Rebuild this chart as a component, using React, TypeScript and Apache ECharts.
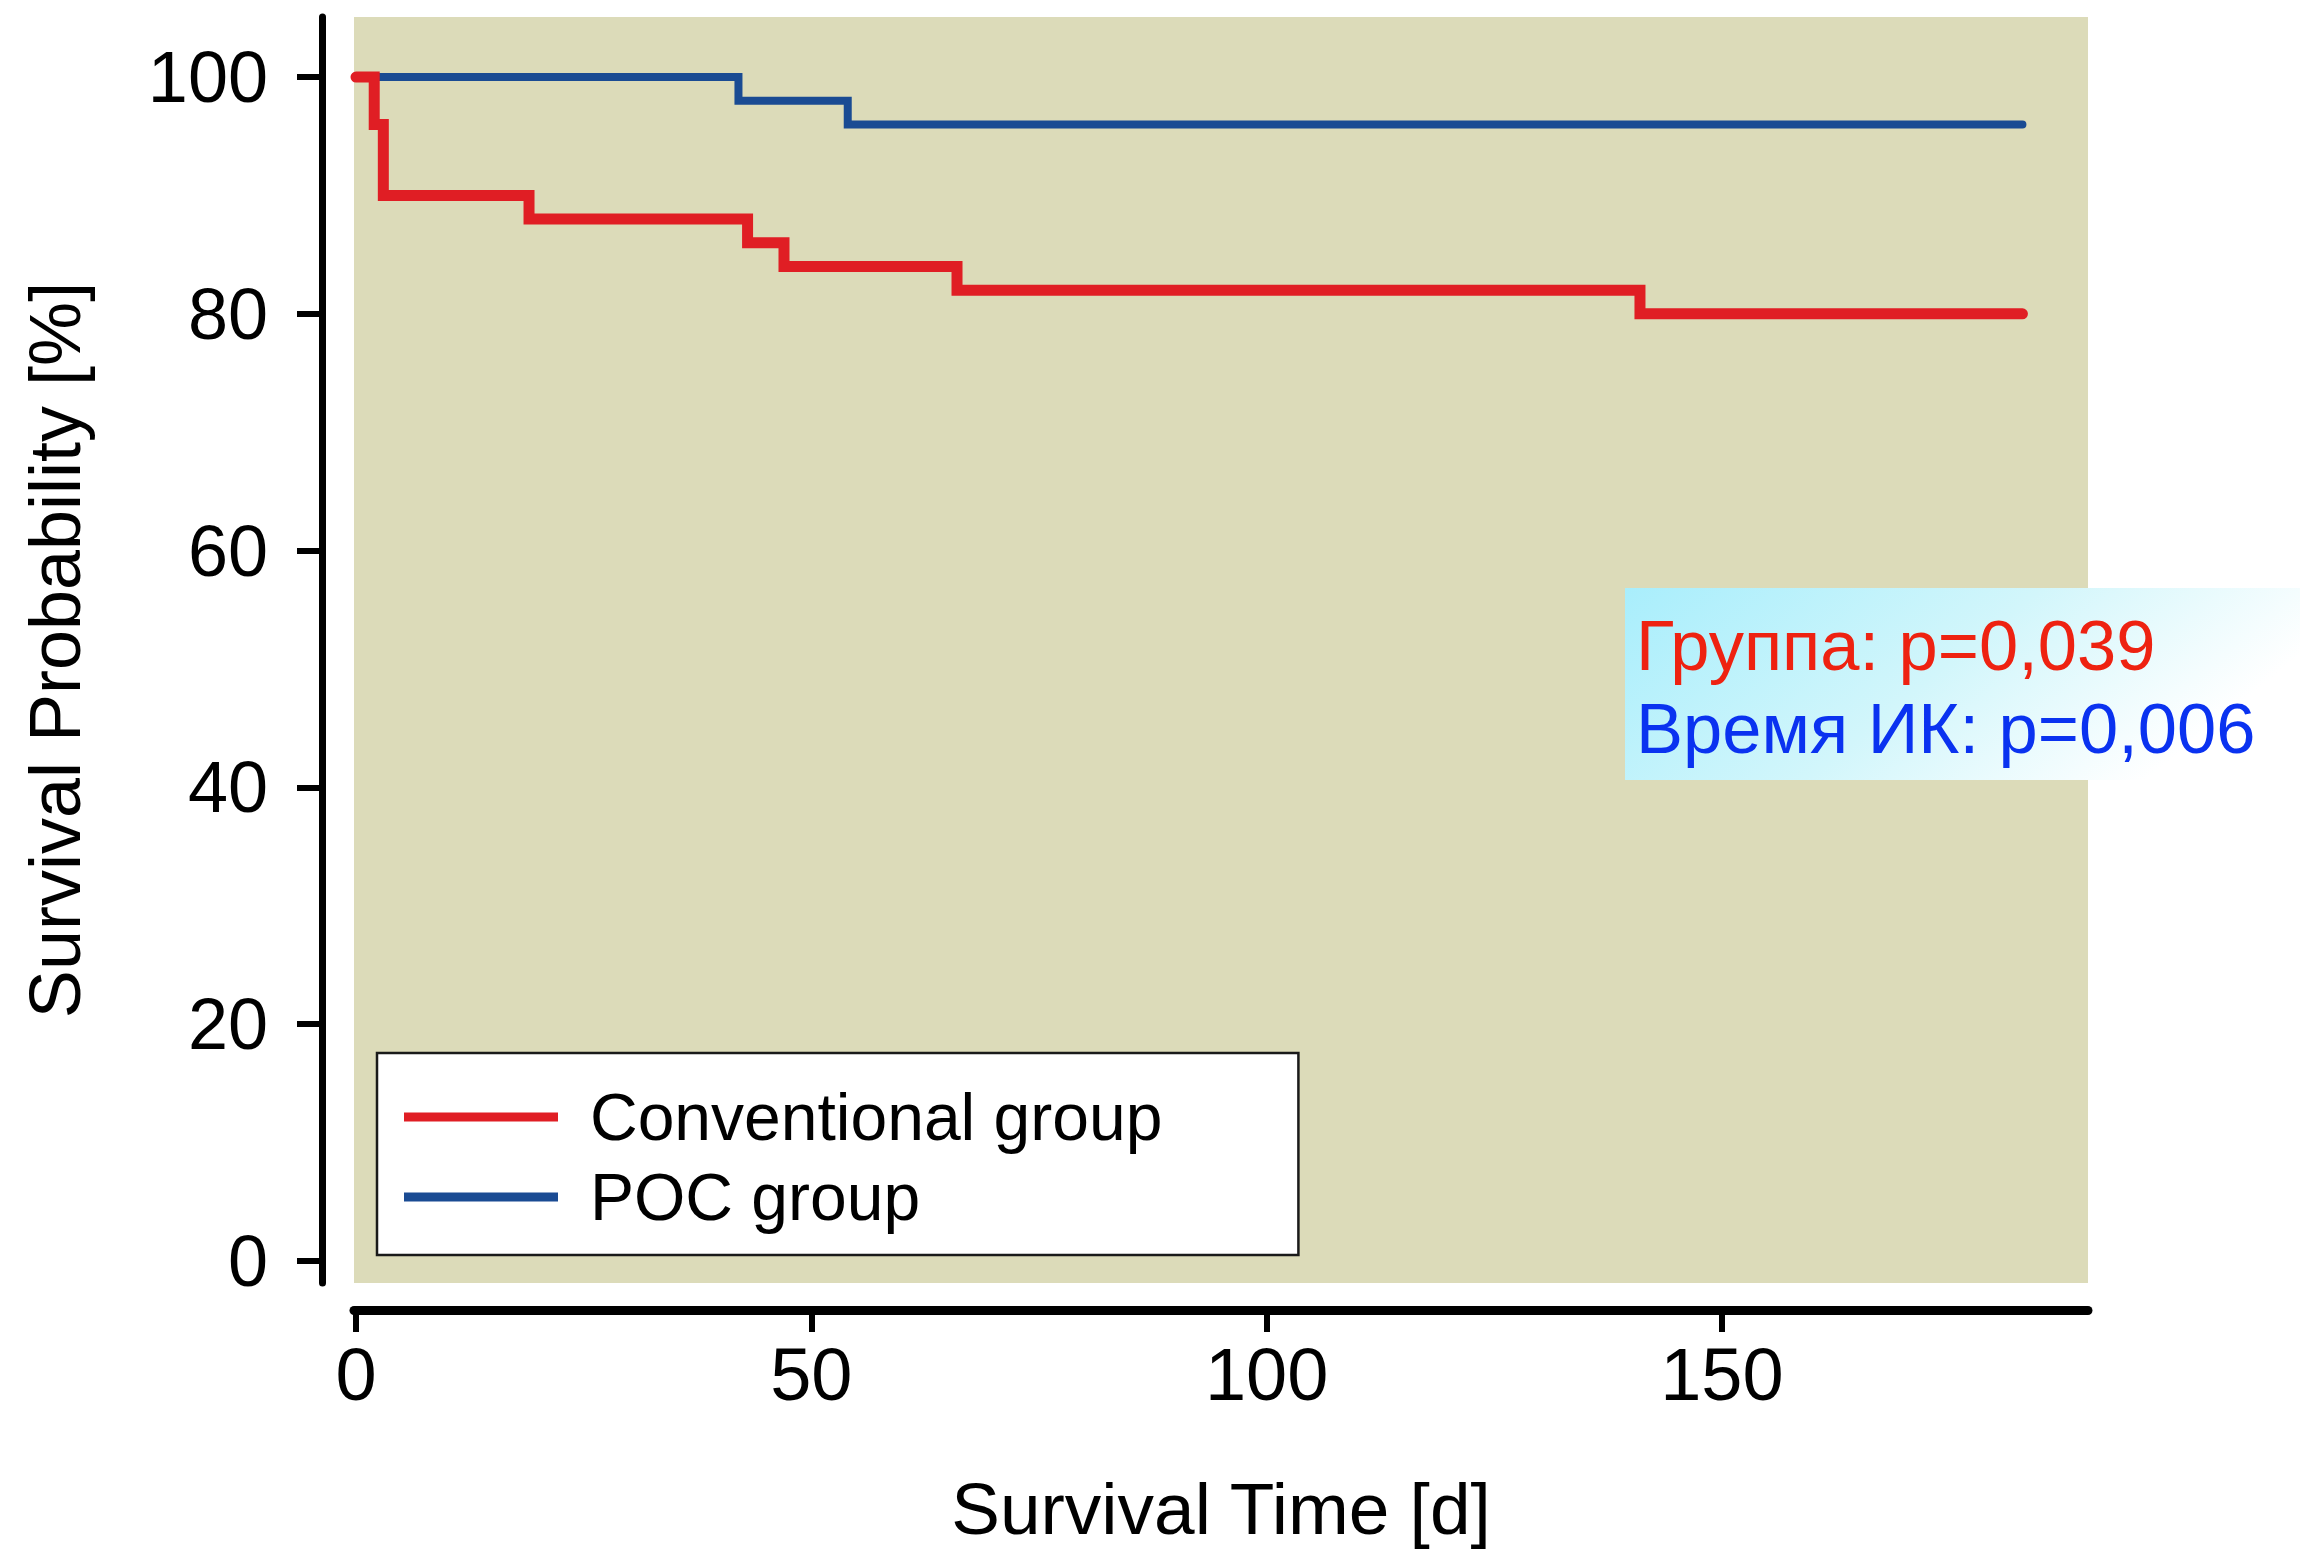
import React, { useEffect, useRef } from "react";
import * as echarts from "echarts";

// Kaplan–Meier step data (days, survival %)
const conventionalTime = [0, 2, 3, 19, 43, 47, 66, 141, 183];
const conventionalSurv = [100, 96, 90, 88, 86, 84, 82, 80, 80];
const pocTime = [0, 42, 54, 183];
const pocSurv = [100, 98, 96, 96];

const yTicks = [0, 20, 40, 60, 80, 100];
const xTicks = [0, 50, 100, 150];

const seriesNames = ["Conventional group", "POC group"];
const annotationLines = ["Группа: p=0,039", "Время ИК: p=0,006"];

const FONT = "'Liberation Sans', Arial, sans-serif";

export default function App() {
  const ref = useRef<HTMLDivElement | null>(null);

  useEffect(() => {
    if (!ref.current) return;
    const chart = echarts.init(ref.current, null, { renderer: "svg" });

    const conv = conventionalTime.map((t, i) => [t, conventionalSurv[i]]);
    const poc = pocTime.map((t, i) => [t, pocSurv[i]]);

    chart.setOption({
      animation: false,
      backgroundColor: "#ffffff",
      grid: {
        left: 354,
        right: 2302 - 2088,
        top: 17,
        bottom: 1551 - 1283,
        show: true,
        backgroundColor: "#DCDBB9",
        borderWidth: 0,
      },
      xAxis: {
        type: "value",
        min: -0.22,
        max: 190.2,
        offset: 27,
        name: "Survival Time [d]",
        nameLocation: "middle",
        nameGap: 162,
        nameTextStyle: { fontSize: 73, fontFamily: FONT, color: "#000" },
        axisLine: { show: true, onZero: false, lineStyle: { color: "#000", width: 9, cap: "round" } },
        axisTick: {
          show: true,
          length: 22,
          customValues: xTicks,
          lineStyle: { color: "#000", width: 6 },
        },
        axisLabel: {
          customValues: xTicks,
          margin: 27,
          fontSize: 74,
          fontFamily: FONT,
          color: "#000",
        },
        splitLine: { show: false },
      },
      yAxis: {
        type: "value",
        min: -1.86,
        max: 105.07,
        offset: 32,
        name: "Survival Probability [%]",
        nameLocation: "middle",
        nameGap: 231,
        nameTextStyle: { fontSize: 72, fontFamily: FONT, color: "#000" },
        axisLine: { show: true, onZero: false, lineStyle: { color: "#000", width: 7, cap: "round" } },
        axisTick: {
          show: true,
          length: 25,
          customValues: yTicks,
          lineStyle: { color: "#000", width: 6 },
        },
        axisLabel: {
          customValues: yTicks,
          margin: 54,
          fontSize: 72,
          fontFamily: FONT,
          color: "#000",
        },
        splitLine: { show: false },
      },
      legend: {
        orient: "vertical",
        left: 377,
        top: 1053,
        data: seriesNames,
        backgroundColor: "#ffffff",
        borderColor: "#1a1a1a",
        borderWidth: 2.5,
        padding: [31, 136, 25, 27],
        itemGap: 14,
        itemWidth: 154,
        itemHeight: 9,
        icon: "rect",
        selectedMode: false,
        textStyle: {
          fontSize: 66,
          fontFamily: FONT,
          color: "#000",
          padding: [0, 0, 0, 27],
        },
      },
      series: [
        {
          name: seriesNames[1],
          type: "line",
          step: "end",
          data: poc,
          symbol: "none",
          color: "#1A4B93",
          lineStyle: { color: "#1A4B93", width: 8, cap: "round", join: "miter" },
          z: 2,
        },
        {
          name: seriesNames[0],
          type: "line",
          step: "end",
          data: conv,
          symbol: "none",
          color: "#E01E24",
          lineStyle: { color: "#E01E24", width: 11, cap: "round", join: "miter" },
          z: 3,
        },
      ],
      graphic: [
        {
          type: "rect",
          x: 1625,
          y: 588,
          shape: { width: 675, height: 192 },
          style: {
            fill: new echarts.graphic.LinearGradient(0, 0, 1, 0.35, [
              { offset: 0, color: "#A9EEFC" },
              { offset: 0.55, color: "#D2F6FB" },
              { offset: 1, color: "#FFFFFF" },
            ]),
          },
          z: 10,
        },
        {
          type: "text",
          x: 1636,
          y: 645,
          style: {
            text: annotationLines[0],
            fontSize: 70.5,
            fontFamily: FONT,
            fill: "#EE2211",
            verticalAlign: "middle",
            align: "left",
          },
          z: 11,
        },
        {
          type: "text",
          x: 1636,
          y: 728,
          style: {
            text: annotationLines[1],
            fontSize: 70.5,
            fontFamily: FONT,
            fill: "#0A32F0",
            verticalAlign: "middle",
            align: "left",
          },
          z: 11,
        },
      ],
    });

    return () => {
      chart.dispose();
    };
  }, []);

  return (
    <div
      ref={ref}
      style={{
        position: "fixed",
        left: 0,
        top: 0,
        width: 2302,
        height: 1551,
        background: "#ffffff",
      }}
    />
  );
}
